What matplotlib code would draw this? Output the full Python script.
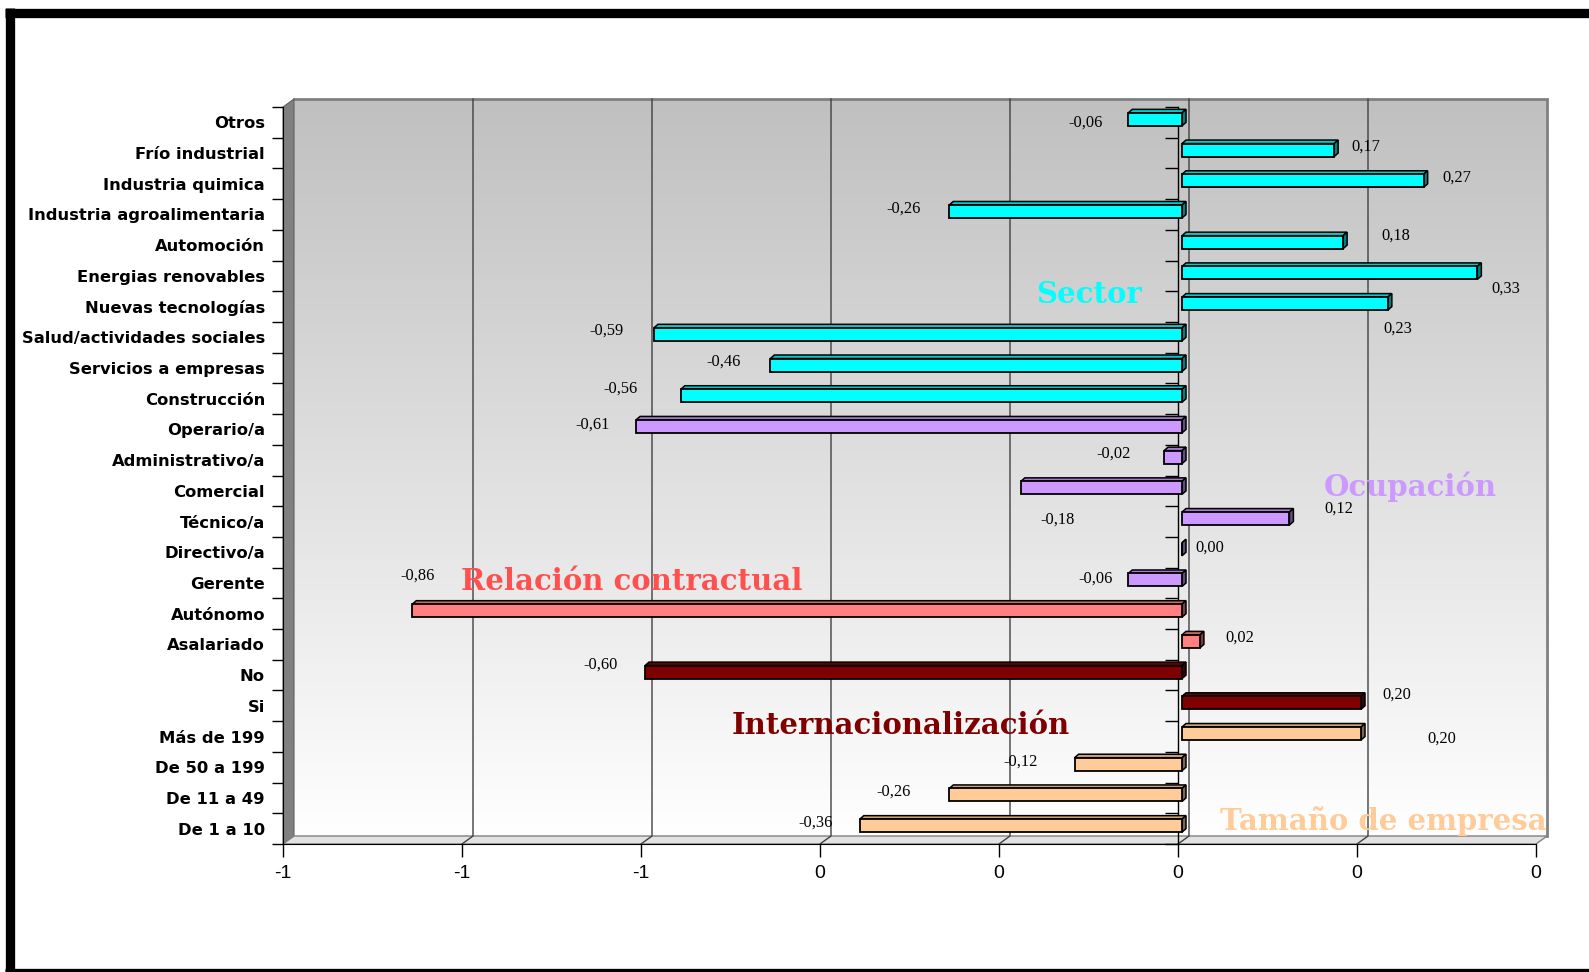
import numpy as np
import matplotlib.pyplot as plt
from matplotlib.patches import Polygon
from matplotlib.lines import Line2D
from matplotlib.colors import LinearSegmentedColormap, to_rgb
from matplotlib.ticker import FuncFormatter, FixedLocator
from matplotlib.transforms import ScaledTranslation

# --- datos ---
categorias = ["Otros", "Frío industrial", "Industria quimica", "Industria agroalimentaria",
              "Automoción", "Energias renovables", "Nuevas tecnologías",
              "Salud/actividades sociales", "Servicios a empresas", "Construcción",
              "Operario/a", "Administrativo/a", "Comercial", "Técnico/a", "Directivo/a",
              "Gerente", "Autónomo", "Asalariado", "No", "Si",
              "Más de 199", "De 50 a 199", "De 11 a 49", "De 1 a 10"]
valores = [-0.06, 0.17, 0.27, -0.26, 0.18, 0.33, 0.23, -0.59, -0.46, -0.56,
           -0.61, -0.02, -0.18, 0.12, 0.00, -0.06,
           -0.86, 0.02,
           -0.60, 0.20,
           0.20, -0.12, -0.26, -0.36]
grupos = (["Sector"] * 10 + ["Ocupación"] * 6 + ["Relación contractual"] * 2
          + ["Internacionalización"] * 2 + ["Tamaño de empresa"] * 4)
nombres_grupo = ["Sector", "Ocupación", "Relación contractual",
                 "Internacionalización", "Tamaño de empresa"]

# colores de barra y de rótulo por grupo
color_barra = {"Sector": "#00FFFF", "Ocupación": "#CC99FF", "Relación contractual": "#FF8080",
               "Internacionalización": "#800000", "Tamaño de empresa": "#FFCC99"}
color_rotulo = {"Sector": "#00FFFF", "Ocupación": "#CC99FF", "Relación contractual": "#FF5050",
                "Internacionalización": "#800000", "Tamaño de empresa": "#FFCC99"}
# posición de los rótulos de grupo (x en escala de valores, y en filas)
pos_rotulo = {"Sector": (-0.10, 5.62), "Ocupación": (0.26, 11.88),
              "Relación contractual": (-0.61, 14.94), "Internacionalización": (-0.31, 19.63),
              "Tamaño de empresa": (0.23, 22.76)}
# desplazamiento de cada etiqueta de valor respecto al extremo de la barra (px)
desp_etiqueta = [(-39, 0), (36, -6), (37, -6), (-42, -6), (57, -10), (32, 13), (14, 22),
                 (-44, -7), (-43, -6), (-56, -10), (-39, -5), (-47, -7), (41, 29),
                 (53, -13), (32, -5), (-29, -4), (9, -38), (44, -7), (-40, -10),
                 (40, -11), (85, 2), (-50, -6), (-52, -6), (-40, -6)]

W, H = 1589, 972
fig = plt.figure(figsize=(W / 100, H / 100), dpi=100)
ax = fig.add_axes([283 / W, 128 / H, 1253 / W, 737 / H])

n = len(categorias)
x0, x1 = -1.0, 0.4
y_top, y_bot = -0.5, n - 0.5
px_x = (x1 - x0) / 1253   # unidades de datos por pixel
px_y = n / 737


def mover(x, y, dx, dy):
    # desplaza un punto dx px a la derecha y dy px hacia arriba
    return x + dx * px_x, y - dy * px_y


# --- paredes 3D ---
prof_x, prof_y = 11, 8
bx0, by_top = mover(x0, y_top, prof_x, prof_y)
bx1, by_bot = mover(x1, y_bot, prof_x, prof_y)

fondo = LinearSegmentedColormap.from_list("fondo", ["#c0c0c0", "#ffffff"])
grad = np.linspace(0, 1, 256).reshape(-1, 1)
ax.imshow(grad, cmap=fondo, aspect="auto", extent=(bx0, bx1, by_bot, by_top),
          origin="upper", zorder=0, interpolation="bilinear", clip_on=False)
ax.plot([bx0, bx1, bx1], [by_top, by_top, by_bot], color="#808080", lw=2, zorder=1,
        solid_joinstyle="miter", clip_on=False)

ax.add_patch(Polygon([(x0, y_top), (bx0, by_top), (bx0, by_bot), (x0, y_bot)],
                     closed=True, fc="#808080", ec="#606060", lw=0.8, zorder=1, clip_on=False))
ax.add_patch(Polygon([(x0, y_bot), (x1, y_bot), (bx1, by_bot), (bx0, by_bot)],
                     closed=True, fc="#e2e2e2", ec="#808080", lw=1, zorder=1, clip_on=False))

# rejilla sobre la pared del fondo
for t in np.arange(-0.8, 0.21, 0.2):
    gx, gy = mover(t, y_bot, prof_x, prof_y)
    ax.plot([t, gx, gx], [y_bot, gy, by_top], color="#404040", lw=1, zorder=1.5,
            clip_on=False)

# eje de categorías en el cero
ax.plot([0, 0], [y_top, y_bot], color="black", lw=1, zorder=2, clip_on=False)
ax.hlines(np.arange(n + 1) - 0.5, -13 * px_x, 0, color="black", lw=1, zorder=2,
          clip_on=False)

# --- barras 3D ---
frente = ax.transData + ScaledTranslation(4 / 100, 3 / 100, fig.dpi_scale_trans)
alto = 13 * px_y
bdx, bdy = 4 * px_x, 3.5 * px_y
posiciones = np.arange(n)
colores = [color_barra[g] for g in grupos]
ax.barh(posiciones, valores, height=alto, color=colores, edgecolor="black",
        linewidth=1.3, transform=frente, zorder=4, clip_on=False)

for i, (v, c) in enumerate(zip(valores, colores)):
    xs, xe = min(0, v), max(0, v)
    ya, yb = i - alto / 2, i + alto / 2
    rgb = np.array(to_rgb(c))
    techo = [(xs, ya), (xe, ya), (xe + bdx, ya - bdy), (xs + bdx, ya - bdy)]
    lado = [(xe, ya), (xe, yb), (xe + bdx, yb - bdy), (xe + bdx, ya - bdy)]
    ax.add_patch(Polygon(techo, closed=True, fc=rgb * 0.8, ec="black", lw=1.1,
                         transform=frente, zorder=3.5, clip_on=False))
    ax.add_patch(Polygon(lado, closed=True, fc=rgb * 0.5, ec="black", lw=1.1,
                         transform=frente, zorder=3.5, clip_on=False))

# etiquetas de valor
for i, (v, (dx, dy)) in enumerate(zip(valores, desp_etiqueta)):
    ax.annotate(f"{v:.2f}".replace(".", ","), xy=(v, i), xytext=(dx, -dy),
                textcoords="offset pixels", ha="center", va="center",
                family="Liberation Serif", fontsize=11.8, color="black", zorder=6,
                annotation_clip=False)

# rótulos de grupo
for g in nombres_grupo:
    gx, gy = pos_rotulo[g]
    ax.text(gx, gy, g, ha="center", va="center", family="DejaVu Serif", weight="heavy",
            fontsize=21, color=color_rotulo[g], zorder=7, clip_on=False)

# --- ejes ---
ax.set_xlim(x0, x1)
ax.set_ylim(y_bot, y_top)
ax.patch.set_visible(False)
for lado_eje in ["top", "right"]:
    ax.spines[lado_eje].set_visible(False)
ax.spines["left"].set_color("black")
ax.spines["bottom"].set_color("black")
ax.spines["left"].set_zorder(3)
ax.spines["bottom"].set_zorder(3)

ax.set_xticks(np.arange(-1.0, 0.41, 0.2))
ax.xaxis.set_major_formatter(FuncFormatter(lambda v, _: f"{int(round(v))}"))
ax.tick_params(axis="x", direction="out", length=9.4, width=1, labelsize=14, pad=6)
for t in ax.get_xticklabels():
    t.set_family("Liberation Sans")

ax.set_yticks(posiciones)
ax.set_yticklabels(categorias)
ax.yaxis.set_minor_locator(FixedLocator(np.arange(n + 1) - 0.5))
ax.tick_params(axis="y", which="major", length=0, pad=13, labelsize=11.8)
ax.tick_params(axis="y", which="minor", length=8, width=1, direction="out")
for t in ax.get_yticklabels():
    t.set_family("DejaVu Sans")
    t.set_weight("bold")

# marco exterior
fig.add_artist(Line2D([9.7 / W, 9.7 / W], [1 - 8 / H, -0.02], color="black", lw=6.7,
                      solid_capstyle="butt"))
fig.add_artist(Line2D([5 / W, 1.02], [1 - 12.7 / H] * 2, color="black", lw=6.7,
                      solid_capstyle="butt"))
fig.add_artist(Line2D([5 / W, 1.02], [1 - 972.5 / H] * 2, color="black", lw=6.7,
                      solid_capstyle="butt"))

fig.savefig("out.png", dpi=100, facecolor="white")
